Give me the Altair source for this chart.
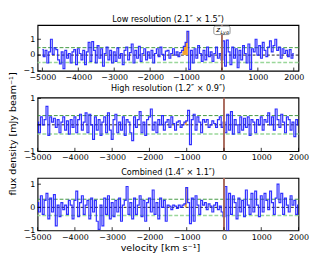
import altair as alt
import pandas as pd

# ---------------- data ----------------
v_start, v_step = -5000, 50

low_res = [
    0.35, -0.1, 0.3, -0.5, 0.2, 1.0, 0.05, 0.45, 0.35, -0.3,
    -0.55, 0.2, -0.85, 0.3, -0.2, 0.1, -0.5, 0.2, 0.35, -0.6,
    0.4, 0.1, -0.3, 0.3, -0.6, 0.2, 0.8, -0.4, 0.85, 0.3,
    -0.5, 0.6, -0.2, 0.4, -0.7, 0.1, 0.5, -0.3, 0.3, -0.5,
    0.2, -0.4, 0.45, -0.2, 0.1, -0.6, 0.3, 0.5, -0.3, 0.15,
    0.7, -0.5, 0.3, -0.2, 0.55, -0.4, 0.1, 0.4, -0.3, 0.2,
    -0.2, 0.3, -0.5, 0.1, 0.4, -0.1, 0.5, 0.05, -0.3, 0.25,
    0.3, -0.2, 0.1, 0.4, 0.0, 0.2, -0.1, 0.15, 0.3, 0.55,
    0.8, 1.5, -0.9, 0.3, -0.5, 0.4, -0.2, 0.6, 0.1, -0.4,
    0.3, -0.3, 0.5, -0.1, 0.2, -0.4, 0.1, 0.5, -0.2, 0.1,
    -0.3, 0.9, -0.7, 0.95, 0.2, -0.6, 0.5, -0.2, 0.4, -0.8,
    0.3, -0.3, 0.6, 0.1, -0.5, 0.7, -0.9, 0.4, 0.2, 1.0,
    0.0, 0.6, -0.2, 0.8, 0.3, -0.1, 0.5, 0.9, 0.2, 0.6,
    1.0, 0.3, 0.5, -0.2, 0.4, 0.1, 0.3, -0.1, 0.35, -0.2,
    0.1,
]
high_res = [
    0.1, -0.3, 0.3, 0.0, 0.2, 0.7, -0.4, 0.3, 0.1, 0.25,
    -0.1, 0.2, -0.3, 0.1, 0.3, -0.2, 0.15, -0.35, 0.2, -0.1,
    0.3, -0.3, 0.2, 0.4, -0.2, 0.1, 0.45, -0.3, 0.4, 0.0,
    -0.55, 0.3, -0.2, 0.2, -0.4, 0.1, 0.3, -0.3, 0.45, -0.2,
    -0.55, 0.2, 0.4, -0.3, 0.1, -0.2, 0.3, -0.4, 0.2, 0.1,
    -0.3, -0.6, 0.3, -0.1, 0.2, 0.5, -0.3, 0.1, -0.4, 0.2,
    0.3, 0.6, -0.2, 0.1, -0.3, 0.2, 0.0, 0.35, -0.2, 0.1,
    0.2, -0.1, 0.3, 0.05, -0.2, 0.1, 0.15, -0.1, 0.0, 0.1,
    0.15, 0.55, -0.75, 0.2, 0.4, -0.2, 0.3, 0.1, -0.3, 0.2,
    0.1, 0.2, -0.1, 0.0, 0.15, 0.05, -0.1, 0.2, 0.3, -0.1,
    0.1, -0.3, 0.4, -0.2, 0.5, -0.35, 0.2, 0.0, -0.3, 0.3,
    -0.2, 0.25, -0.1, 0.3, -0.4, 0.2, 0.1, -0.3, 0.2, 0.0,
    0.3, -0.2, 0.2, 0.1, 0.45, 0.0, 0.3, -0.2, 0.6, 0.2,
    -0.1, 0.4, 0.1, -0.3, 0.3, 0.2, -0.2, 0.1, -0.45, 0.2,
    0.0,
]
combined = [
    0.2, -0.2, 0.5, -0.3, 0.3, 0.6, -0.5, 0.4, -0.2, 0.55,
    -0.8, 0.1, -0.4, 0.2, -0.1, 0.1, -0.3, 0.3, 0.1, -0.5,
    0.3, 0.7, -0.4, 0.2, 0.5, -0.3, 0.1, 0.3, -0.5, 0.4,
    -0.2, 0.3, -0.6, -0.95, 0.1, -0.8, 0.4, -0.3, 0.5, -0.5,
    0.2, -0.4, 0.3, -0.2, 0.4, -0.6, 0.1, 0.3, 0.9, -0.3,
    0.2, -0.5, 0.4, -0.3, 0.1, 0.5, -0.4, 0.3, -0.6, 0.2,
    0.4, -0.2, 0.75, -0.3, 0.2, -0.5, 0.4, 0.0, 0.3, -0.6,
    0.1, 0.05, -0.1, 0.1, 0.05, -0.05, 0.1, 0.0, 0.1, 0.15,
    0.85, 0.2, -0.7, 0.4, -0.6, 0.5, 0.1, -0.3, 0.3, 0.1,
    0.2, -0.1, 0.15, 0.05, -0.2, 0.1, 0.2, -0.1, 0.05, -0.2,
    -0.4, 0.9, -1.0, 0.6, -0.3, 0.5, 0.2, -0.5, 0.4, -0.2,
    0.3, -0.4, 0.75, 0.1, -0.3, 0.6, -0.2, 0.7, 0.1, -0.4,
    0.5, -0.2, 0.6, 0.3, -0.1, 0.7, 0.2, -0.3, 0.4, 1.0,
    0.2, 0.6, -0.3, 0.4, 0.1, -0.2, 0.5, 0.1, 0.3, -0.3,
    0.1,
]
velocity = [v_start + v_step * i for i in range(len(low_res))]

series = [low_res, high_res, combined]
titles = ["Low resolution (2.1″ × 1.5″)",
          "High resolution (1.2″ × 0.9″)",
          "Combined (1.4″ × 1.1″)"]
y_domains = [[-1, 1.9], [-1, 1.03], [-1, 1.27]]
sigma = [0.47, 0.35, 0.35]
orange_ranges = [[-1100, -950], [-1050, -1000], [-1050, -1000]]
x_ticks = [-5000, -4000, -3000, -2000, -1000, 0, 1000, 2000]
y_ticks = [-1, 0, 1]
z_lya_velocity = [0]

heights = [48, 56, 55]
W = 273
FONT = "DejaVu Sans"
BLUE = "#1a1aff"


def panel(i):
    h = heights[i]
    df = pd.DataFrame({"v": velocity, "f": series[i]})
    lo, hi = orange_ranges[i]
    df_or = df[(df.v >= lo) & (df.v <= hi)]
    xs = alt.Scale(domain=[-5000, 2000], nice=False, zero=False)
    ys = alt.Scale(domain=y_domains[i], nice=False, zero=False)
    last = i == 2
    xax = alt.Axis(values=x_ticks, format="d", ticks=False, grid=False,
                   domain=False, labelPadding=2, labelFontSize=8.3,
                   labelColor="black", labelFlush=False, labelOverlap=False,
                   labelSeparation=0,
                   title="velocity [km s⁻¹]" if last else None,
                   titleFontSize=10, titleFontWeight="normal",
                   titlePadding=3, titleColor="black", titleX=128)
    yax = alt.Axis(values=y_ticks, format="d", ticks=False, grid=False,
                   domain=False, labelPadding=3, labelFontSize=8.3,
                   labelColor="black", labelOverlap=False, title=None)
    X = alt.X("v:Q", scale=xs, axis=xax)
    Xt = alt.X("t:Q", scale=xs, axis=xax)
    Y = alt.Y("f:Q", scale=ys, axis=yax)
    Yy = alt.Y("y:Q", scale=ys, axis=yax)
    Yt = alt.Y("t:Q", scale=ys, axis=yax)
    base = alt.Chart(df)
    hl = pd.DataFrame({"y": [0.0]})
    zero = alt.Chart(hl).mark_rule(color="black", strokeDash=[3, 2],
                                   strokeWidth=0.9).encode(y=Yy)
    sp = pd.DataFrame({"y": [sigma[i]]})
    sm = pd.DataFrame({"y": [-sigma[i]]})
    up = alt.Chart(sp).mark_rule(color="#3c963c", strokeDash=[4, 2],
                                 strokeWidth=1).encode(y=Yy)
    dn = alt.Chart(sm).mark_rule(color="#9ad79a", strokeDash=[4, 2],
                                 strokeWidth=1.6).encode(y=Yy)
    area = alt.Chart(df_or).mark_area(interpolate="step", color="#f4a531",
                                      clip=True).encode(
        x=X, y=Y, y2=alt.datum(0))
    line = base.mark_line(interpolate="step", color=BLUE, strokeWidth=1.25,
                          opacity=0.9, clip=True).encode(x=X, y=Y)
    zl = pd.DataFrame({"v": z_lya_velocity})
    vline = alt.Chart(zl).mark_rule(color="#a8685a", strokeWidth=2).encode(x=X)
    xt = pd.DataFrame({"t": x_ticks})
    yt = pd.DataFrame({"t": y_ticks})
    xtick = alt.Chart(xt).mark_rule(color="black", strokeWidth=0.8).encode(
        x=Xt, y=alt.value(h), y2=alt.value(h - 3.5))
    ytick = alt.Chart(yt).mark_rule(color="black", strokeWidth=0.8).encode(
        y=Yt, x=alt.value(0), x2=alt.value(3.5))
    layers = [zero, up, dn, area, line, vline, xtick, ytick]
    if i == 0:
        box = alt.Chart(zl).mark_bar(width=17, fill="white", stroke="#777777",
                                     strokeWidth=0.8, cornerRadius=2).encode(
            x=X, y=alt.value(1), y2=alt.value(10))
        t1 = alt.Chart(zl).mark_text(font=FONT, fontSize=7.5, fontStyle="italic",
                                     dx=-4, color="black").encode(
            x=X, y=alt.value(5), text=alt.value("z"))
        t2 = alt.Chart(zl).mark_text(font=FONT, fontSize=5, fontStyle="italic",
                                     dx=3, color="black").encode(
            x=X, y=alt.value(7.5), text=alt.value("Lyα"))
        layers += [box, t1, t2]
    return alt.layer(*layers).properties(
        width=W, height=h,
        title=alt.TitleParams(titles[i], fontSize=8.5, fontWeight="normal",
                              offset=1, color="black", font=FONT))


chart = alt.vconcat(
    panel(0), panel(1), panel(2), spacing=28, bounds="flush",
    title=alt.TitleParams("flux density [mJy beam⁻¹]", orient="left",
                          anchor="middle", fontSize=10, fontWeight="normal",
                          offset=5, color="black", font=FONT),
).configure(font=FONT, padding=0).configure_view(
    stroke="black", strokeWidth=1.2).configure_axis(
    labelFont=FONT, titleFont=FONT, labelOverlap=False)

chart.save("out.html", embed_options={"renderer": "svg", "actions": False})
